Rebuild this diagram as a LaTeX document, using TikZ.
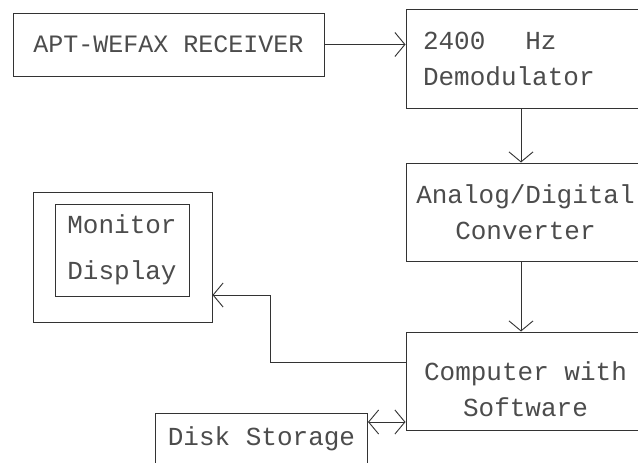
\documentclass[tikz,border=0pt]{standalone}
\usepackage{fontspec}
\newfontfamily\plotfont{Liberation Mono}
\usetikzlibrary{arrows.meta}
\begin{document}
\begin{tikzpicture}[x=1pt,y=1pt,
  box/.style={draw=black!80, line width=1pt, inner sep=0pt, text=black!70,
    font={\plotfont\fontsize{26}{36}\selectfont}, align=center},
  conn/.style={draw=black!80, line width=1pt},
  >={Straight Barb[length=10pt,width=24pt,line width=0.9pt]}]
\useasboundingbox (0,0) rectangle (638,-463);
\clip (0,0) rectangle (638,-463);
\fill[white] (0,0) rectangle (638,-463);
% boxes
\node[box, minimum width=311pt, minimum height=63pt, font={\plotfont\fontsize{25}{36}\selectfont}] (apt) at (168.5,-44.5) {APT-WEFAX RECEIVER};
\node[box, minimum width=239pt, minimum height=99pt, text width=205pt, inner xsep=17pt, align=left] (demod) at (525.5,-58.5) {2400\hspace*{40pt}Hz\\Demodulator};
\node[box, minimum width=239pt, minimum height=98pt] (adc) at (525.5,-212) {Analog/Digital\\Converter};
\node[box, minimum width=239pt, minimum height=98pt] (comp) at (525.5,-381) {\rule{0pt}{36pt}Computer with\\Software};
\node[box, minimum width=179pt, minimum height=130pt] (monout) at (122.5,-257) {};
\node[box, minimum width=134pt, minimum height=92pt, font={\plotfont\fontsize{26}{46}\selectfont}] (monin) at (122,-250) {Monitor\\Display};
\node[box, anchor=north west, minimum width=212pt, inner ysep=7pt, text height=25pt, text depth=40pt] (disk) at (155,-413) {Disk Storage};
% helper coordinates
\coordinate (xc) at (521,0);
\coordinate (ym) at (0,-362);
\coordinate (bend) at (270,-295);
\coordinate (yd) at (0,-422);
% connectors
\draw[conn,->] (apt.east) -- (demod.west |- apt.east);
\draw[conn,->] (demod.south -| xc) -- (adc.north -| xc);
\draw[conn,->] (adc.south -| xc) -- (comp.north -| xc);
\draw[conn,->] (comp.west |- ym) -| (bend) -- (monout.east |- bend);
\draw[conn,<->] (disk.east |- yd) -- (comp.west |- yd);
\end{tikzpicture}
\end{document}
